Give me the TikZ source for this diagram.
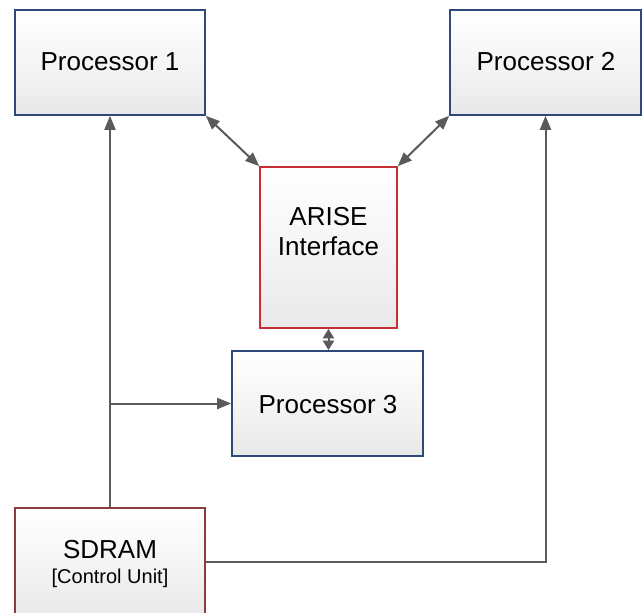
\documentclass[tikz,border=0pt]{standalone}
\usepackage{fontspec}
\setmainfont{Liberation Sans}
\usetikzlibrary{arrows.meta}
\definecolor{boxblue}{HTML}{2E4A7A}
\definecolor{boxred}{HTML}{C62E34}
\definecolor{boxmaroon}{HTML}{8E3B40}
\definecolor{linkgray}{HTML}{5A5A5A}
\tikzset{
  block/.style={rectangle, line width=1.6pt, top color=white, bottom color=black!9,
    middle color=black!4, inner sep=0pt},
  blueblock/.style={block, draw=boxblue},
  redblock/.style={block, draw=boxred},
  lbl/.style={align=center, inner sep=0pt, font=\fontsize{26}{30}\selectfont},
  link/.style={draw=linkgray, line width=2pt},
  tip/.style={link, -{Triangle[length=14pt,width=11pt]}},
  bitip/.style={link, {Triangle[length=14pt,width=11pt]}-{Triangle[length=14pt,width=11pt]}},
  shortbitip/.style={link, {Triangle[length=9.5pt,width=11pt]}-{Triangle[length=9.5pt,width=11pt]}},
}
\begin{document}
\begin{tikzpicture}[x=1pt,y=1pt]
\useasboundingbox (0,0) rectangle (644,-612);
\begin{scope}
\clip (0,0) rectangle (644,-612);
% boxes
\node[blueblock, minimum width=190pt, minimum height=105pt] (p1) at (110,-62.5) {};
\node[blueblock, minimum width=191pt, minimum height=105pt] (p2) at (545.5,-62.5) {};
\node[redblock, minimum width=137pt, minimum height=161pt] (arise) at (328.5,-247.5) {};
\node[blueblock, minimum width=191pt, minimum height=105pt] (p3) at (327.5,-403.5) {};
\node[redblock, draw=boxmaroon, minimum width=190pt, minimum height=108pt] (sdram) at (110,-562) {};
% box texts
\node[lbl] (p1-t) at (110,-62) {Processor 1};
\node[lbl] (p2-t) at (546,-62) {Processor 2};
\node[lbl] (arise-t) at (328.5,-231.5) {ARISE\\Interface};
\node[lbl] (p3-t) at (328,-405) {Processor 3};
\node[lbl] (sdram-t) at (110,-550) {SDRAM};
\node[lbl, font=\fontsize{20}{24}\selectfont] (sdram-s) at (110,-578) {[Control Unit]};
% connectors
\draw[bitip] (p1.south east) -- (arise.north west);
\draw[bitip] (p2.south west) -- (arise.north east);
\draw[shortbitip] (arise.south) -- (arise.south |- p3.north);
\draw[tip] (sdram.north) -- (p1.south);
\draw[tip] (sdram.north |- p3.west) -- (p3.west);
\draw[tip] (sdram.east) -- (sdram.east -| p2.south) -- (p2.south);
\end{scope}
\end{tikzpicture}
\end{document}
